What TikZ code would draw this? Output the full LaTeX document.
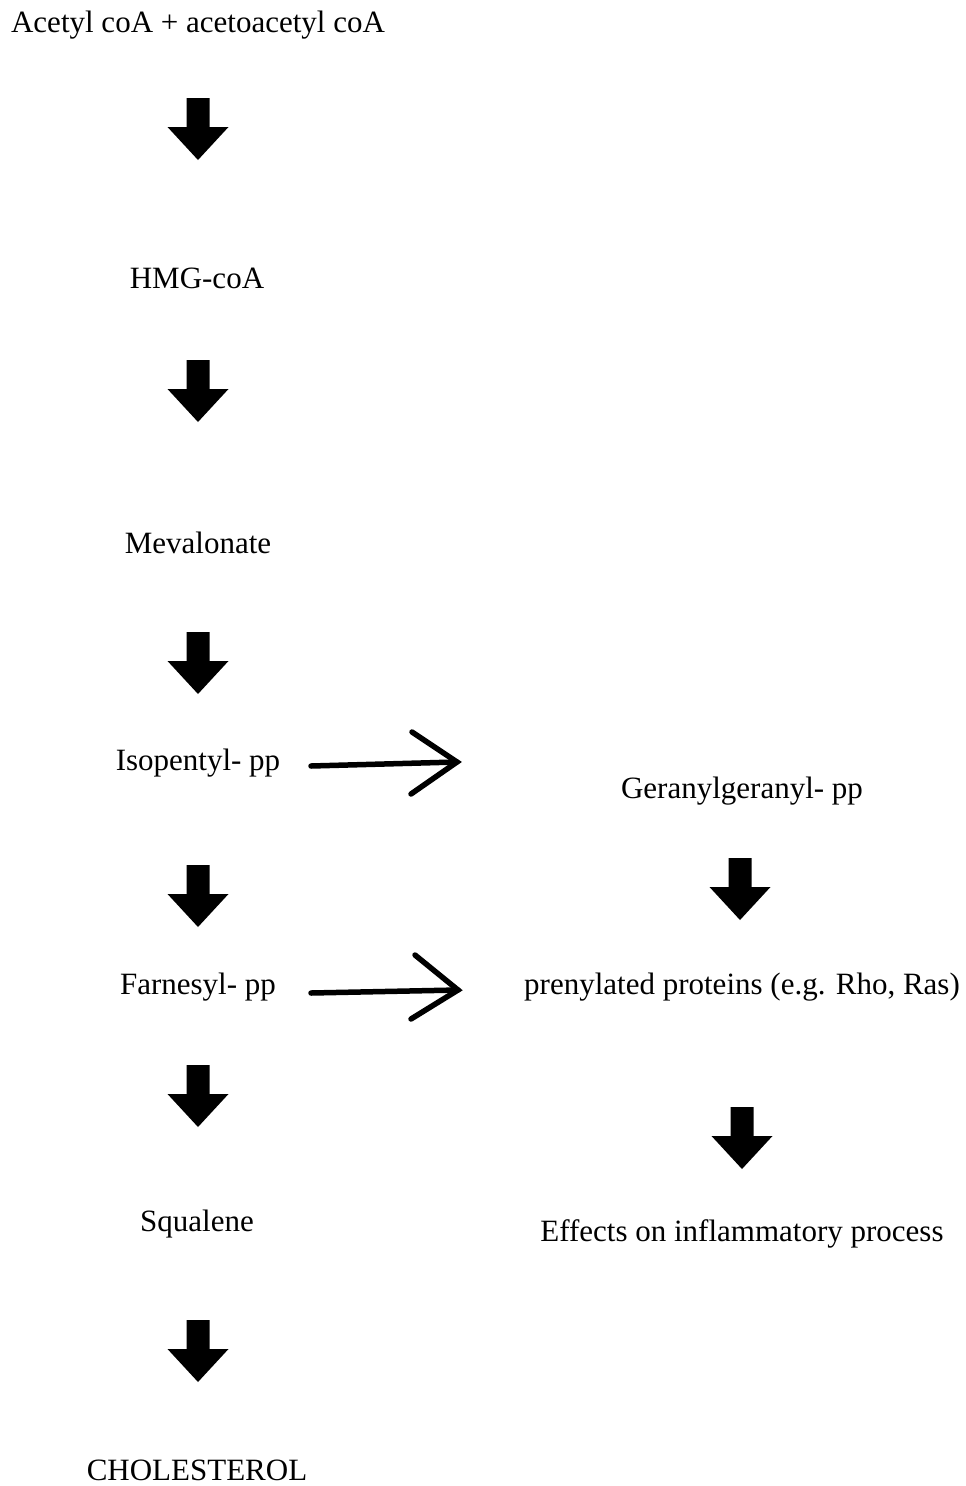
\documentclass[tikz,border=0pt]{standalone}
\usepackage{fontspec}
\setmainfont{Liberation Serif}
\begin{document}
\begin{tikzpicture}[x=1pt,y=-1pt,
  label/.style={font=\fontsize{31}{37}\selectfont, anchor=base, inner sep=0pt},
  openarrow/.style={line width=5.5pt, line cap=round, line join=miter},
  blockarrow/.pic={
    \fill (-11.5,0) -- (11.5,0) -- (11.5,29) -- (30.5,29) -- (0,62)
          -- (-30.5,29) -- (-11.5,29) -- cycle;
  }]
\useasboundingbox (0,0) rectangle (966,1486);

% main pathway
\node[label] (acetyl) at (198,32) {Acetyl coA + acetoacetyl coA};
\node[label] (hmg)    at (197,288) {HMG-coA};
\node[label] (meva)   at (198,553) {Mevalonate};
\node[label] (iso)    at (198,770) {Isopentyl- pp};
\node[label] (farn)   at (198,994) {Farnesyl- pp};
\node[label] (squa)   at (197,1231) {Squalene};
\node[label] (chol)   at (197,1480) {CHOLESTEROL};

% side branch
\node[label] (gera)   at (742,798) {Geranylgeranyl- pp};
\node[label] (prenyl) at (742,994) {prenylated proteins (e.g. Rho, Ras)};
\node[label] (effect) at (742,1241) {Effects on inflammatory process};

% block arrows between steps
\pic at (198,98)   {blockarrow};
\pic at (198,360)  {blockarrow};
\pic at (198,632)  {blockarrow};
\pic at (198,865)  {blockarrow};
\pic at (198,1065) {blockarrow};
\pic at (198,1320) {blockarrow};
\pic at (740,858)  {blockarrow};
\pic at (742,1107) {blockarrow};

% hand-drawn open arrows towards the branch
\coordinate (a1s) at (311,766);
\coordinate (a1t) at (457,762);
\draw[openarrow] (a1s) -- (a1t);
\draw[openarrow] (412,732) -- (a1t) -- (411,794);

\coordinate (a2s) at (311,993);
\coordinate (a2t) at (458,990);
\draw[openarrow] (a2s) -- (a2t);
\draw[openarrow] (415,955) -- (a2t) -- (411,1019);
\end{tikzpicture}
\end{document}
